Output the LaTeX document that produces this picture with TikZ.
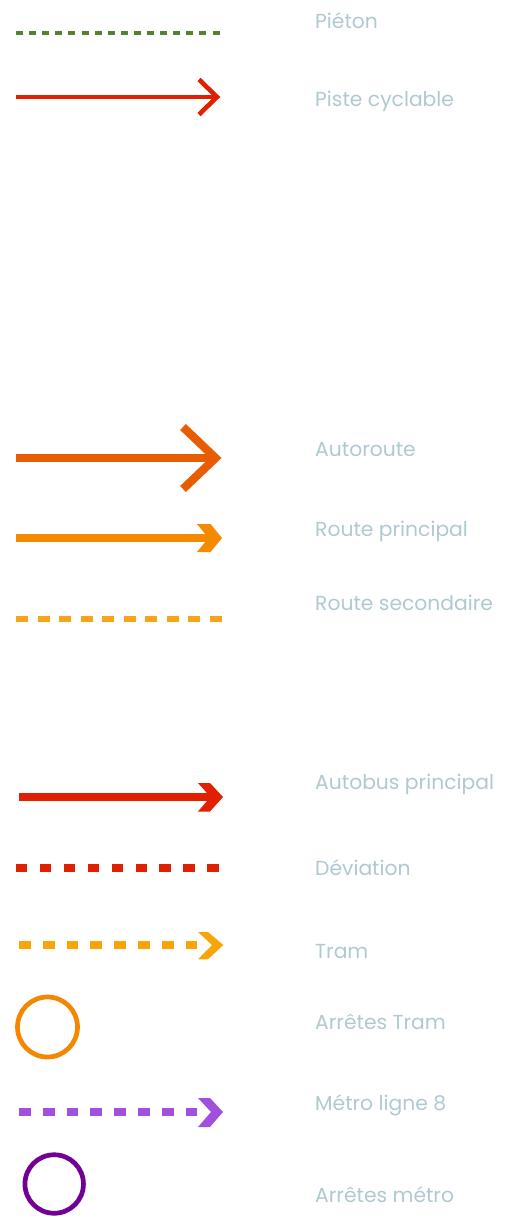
\documentclass[tikz,border=0pt]{standalone}
\usepackage{fontspec}
\setmainfont{Poppins}
\begin{document}
\begin{tikzpicture}[x=1pt,y=-1pt,
  lbl/.style={anchor=base west,inner sep=0pt,text=labelc,font=\fontsize{20.3}{23}\selectfont},
  shaft/.style={line cap=butt},
  pieton/.style={draw=greenc,line width=4.6pt,dash pattern=on 7pt off 6.1pt},
  cycle/.style={draw=redc,line width=4.6pt},
  autoroute/.style={draw=darkorange,line width=8.3pt},
  rprinc/.style={draw=orangec,line width=8pt},
  rsec/.style={draw=yelloworange,line width=6.5pt,dash pattern=on 12pt off 9.5pt},
  bus/.style={draw=redc,line width=8.3pt},
  devia/.style={draw=redc,line width=8.6pt,dash pattern=on 11.3pt off 12.6pt},
  tram/.style={draw=tramc,line width=8pt,dash pattern=on 11.7pt off 12.1pt},
  metro/.style={draw=metroc,line width=8pt,dash pattern=on 11.7pt off 12.1pt},
  stop/.style={circle,inner sep=0pt,minimum size=60pt,line width=4.7pt}
]
\definecolor{labelc}{HTML}{B0C9D0}
\definecolor{greenc}{HTML}{548235}
\definecolor{redc}{HTML}{E02000}
\definecolor{darkorange}{HTML}{E85D04}
\definecolor{orangec}{HTML}{F58A00}
\definecolor{yelloworange}{HTML}{F9A31B}
\definecolor{tramc}{HTML}{F9A50A}
\definecolor{metroc}{HTML}{A150DE}
\definecolor{tramstop}{HTML}{F58700}
\definecolor{metrostop}{HTML}{720096}
\useasboundingbox (0,0) rectangle (504,1216);

% Pieton
\coordinate (p1) at (16,33); \coordinate (p2) at (220,33);
\draw[pieton,shaft] (p1) -- (p2);
\node[lbl] (tp) at (315,28.3) {Piéton};

% Piste cyclable
\coordinate (c1) at (16,97); \coordinate (c2) at (217,97);
\draw[cycle,shaft] (c1) -- (c2);
\draw[cycle,line join=miter] (199,79.5) -- (c2) -- (199,114.5);
\node[lbl] (tc) at (315,106.7) {Piste cyclable};

% Autoroute
\coordinate (a1) at (16,458); \coordinate (a2) at (215.5,458);
\draw[autoroute,shaft] (a1) -- (a2);
\draw[autoroute,line join=miter] (183,427) -- (a2) -- (183,489);
\node[lbl] (ta) at (315,456.7) {Autoroute};

% Route principal
\coordinate (r1) at (16,538); \coordinate (r2) at (212,538);
\draw[rprinc,shaft] (r1) -- (r2);
\fill[orangec] (197,524) -- (210.5,524) -- (222,538) -- (210.5,552) -- (197,552) -- (208.5,538) -- cycle;
\node[lbl] (tr) at (315,536.7) {Route principal};

% Route secondaire
\coordinate (s1) at (16,619); \coordinate (s2) at (222,619);
\draw[rsec,shaft] (s1) -- (s2);
\node[lbl] (ts) at (315,610) {Route secondaire};

% Autobus principal
\coordinate (b1) at (19,797); \coordinate (b2) at (213,797);
\draw[bus,shaft] (b1) -- (b2);
\fill[redc] (198,783) -- (210,783) -- (223,797) -- (210,811.5) -- (198,811.5) -- (210.5,797) -- cycle;
\node[lbl] (tb) at (315,789.3) {Autobus principal};

% Deviation
\coordinate (d1) at (16,868); \coordinate (d2) at (220,868);
\draw[devia,shaft] (d1) -- (d2);
\node[lbl] (td) at (315,875) {Déviation};

% Tram
\coordinate (t1) at (19,945); \coordinate (t2) at (198,945);
\draw[tram,shaft] (t1) -- (t2);
\fill[tramc] (198,932) -- (208,932) -- (223.3,945) -- (208,959.3) -- (198,959.3) -- (212,945) -- cycle;
\node[lbl] (tt) at (315,958.3) {Tram};

% Arretes Tram
\node[stop,draw=tramstop] (st) at (47.5,1027) {};
\node[lbl] (tst) at (315,1029.3) {Arrêtes Tram};

% Metro
\coordinate (m1) at (19,1112); \coordinate (m2) at (198,1112);
\draw[metro,shaft] (m1) -- (m2);
\fill[metroc] (198,1098) -- (210,1098) -- (223,1112) -- (210,1127) -- (198,1127) -- (211,1112) -- cycle;
\node[lbl] (tm) at (315,1110) {Métro ligne 8};

% Arretes metro
\node[stop,draw=metrostop,minimum size=58.5pt] (sm) at (54.2,1184) {};
\node[lbl] (tsm) at (315,1202.7) {Arrêtes métro};
\end{tikzpicture}
\end{document}
